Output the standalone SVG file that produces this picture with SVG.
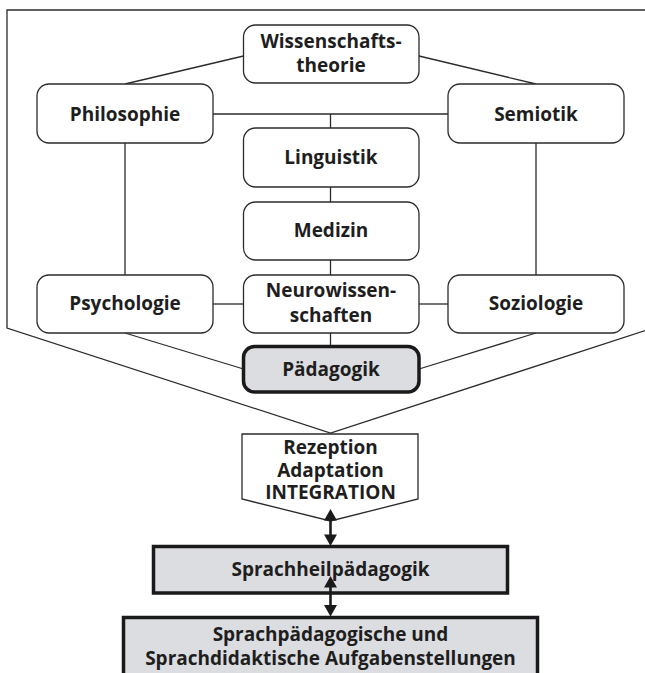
<svg xmlns="http://www.w3.org/2000/svg" width="645" height="673" viewBox="0 0 645 673">
  <style>
    .box { fill: #ffffff; stroke: #2b2b2b; stroke-width: 1.3; }
    .hl { fill: #dcdde0; stroke: #1a1a1a; stroke-width: 3.5; }
    .ln { fill: none; stroke: #2b2b2b; stroke-width: 1.3; }
    .lbl { font-family: "Open Sans", "Noto Sans", "Liberation Sans", sans-serif; font-weight: 700; font-size: 19px; fill: #1e1e1e; text-anchor: middle; }
    .arr { stroke: #1a1a1a; stroke-width: 2.6; }
    .head { fill: #1a1a1a; }
  </style>
  <rect width="645" height="673" fill="#ffffff"/>

  <!-- funnel frame -->
  <path class="ln" d="M7,328 L7,10 L653,10 L653,328 L330.5,433 Z"/>

  <!-- connectors -->
  <g id="connectors" class="ln">
    <line x1="243.5" y1="56" x2="125" y2="84"/>
    <line x1="419" y1="56" x2="536" y2="84"/>
    <line x1="213" y1="114" x2="448" y2="114"/>
    <line x1="330.5" y1="114" x2="330.5" y2="128"/>
    <line x1="330.5" y1="187" x2="330.5" y2="202"/>
    <line x1="330.5" y1="260" x2="330.5" y2="275"/>
    <line x1="125" y1="143" x2="125" y2="275"/>
    <line x1="536" y1="143" x2="536" y2="275"/>
    <line x1="213" y1="304" x2="243.5" y2="304"/>
    <line x1="419" y1="304" x2="448" y2="304"/>
    <line x1="330.5" y1="333" x2="330.5" y2="346.5"/>
    <line x1="125" y1="333" x2="243.5" y2="369"/>
    <line x1="419" y1="369" x2="536" y2="333"/>
  </g>

  <g id="wissenschaftstheorie">
    <rect class="box" x="243.5" y="25" width="175.5" height="58" rx="12"/>
    <text class="lbl" x="331" y="48">Wissenschafts-</text>
    <text class="lbl" x="331" y="72">theorie</text>
  </g>
  <g id="philosophie">
    <rect class="box" x="37" y="84" width="176" height="59" rx="12"/>
    <text class="lbl" x="125" y="121">Philosophie</text>
  </g>
  <g id="semiotik">
    <rect class="box" x="448" y="84" width="176" height="59" rx="12"/>
    <text class="lbl" x="536" y="121">Semiotik</text>
  </g>
  <g id="linguistik">
    <rect class="box" x="243.5" y="128" width="175.5" height="59" rx="12"/>
    <text class="lbl" x="331" y="164">Linguistik</text>
  </g>
  <g id="medizin">
    <rect class="box" x="243.5" y="202" width="175.5" height="58" rx="12"/>
    <text class="lbl" x="331" y="237">Medizin</text>
  </g>
  <g id="psychologie">
    <rect class="box" x="37" y="275" width="176" height="58" rx="12"/>
    <text class="lbl" x="125" y="310">Psychologie</text>
  </g>
  <g id="neurowissenschaften">
    <rect class="box" x="243.5" y="275" width="175.5" height="58" rx="12"/>
    <text class="lbl" x="331" y="297">Neurowissen-</text>
    <text class="lbl" x="331" y="322">schaften</text>
  </g>
  <g id="soziologie">
    <rect class="box" x="448" y="275" width="176" height="58" rx="12"/>
    <text class="lbl" x="536" y="310">Soziologie</text>
  </g>
  <g id="paedagogik">
    <rect class="hl" x="243.5" y="346.5" width="175.5" height="45.5" rx="11"/>
    <text class="lbl" x="331" y="376">Pädagogik</text>
  </g>

  <g id="integration">
    <path class="box" d="M242,434 L418,434 L418,499 L330.5,521 L242,499 Z"/>
    <text class="lbl" x="330.5" y="454">Rezeption</text>
    <text class="lbl" x="330.5" y="476.5">Adaptation</text>
    <text class="lbl" x="330.5" y="499">INTEGRATION</text>
  </g>

  <g id="sprachheilpaedagogik">
    <rect class="hl" x="153.5" y="546.5" width="354" height="46.5"/>
    <text class="lbl" x="330.5" y="576">Sprachheilpädagogik</text>
  </g>
  <g id="aufgabenstellungen">
    <rect class="hl" x="123.5" y="617.5" width="414" height="70"/>
    <text class="lbl" x="330.5" y="641">Sprachpädagogische und</text>
    <text class="lbl" x="330.5" y="665">Sprachdidaktische Aufgabenstellungen</text>
  </g>

  <!-- two-way arrows -->
  <g id="arrows">
    <line class="arr" x1="330.5" y1="518" x2="330.5" y2="537"/>
    <path class="head" d="M330.5,509 L324,520.5 L337,520.5 Z"/>
    <path class="head" d="M330.5,546 L324,534.5 L337,534.5 Z"/>
    <line class="arr" x1="330.5" y1="585" x2="330.5" y2="607"/>
    <path class="head" d="M330.5,576 L324,587.5 L337,587.5 Z"/>
    <path class="head" d="M330.5,616.5 L324,605 L337,605 Z"/>
  </g>
</svg>
